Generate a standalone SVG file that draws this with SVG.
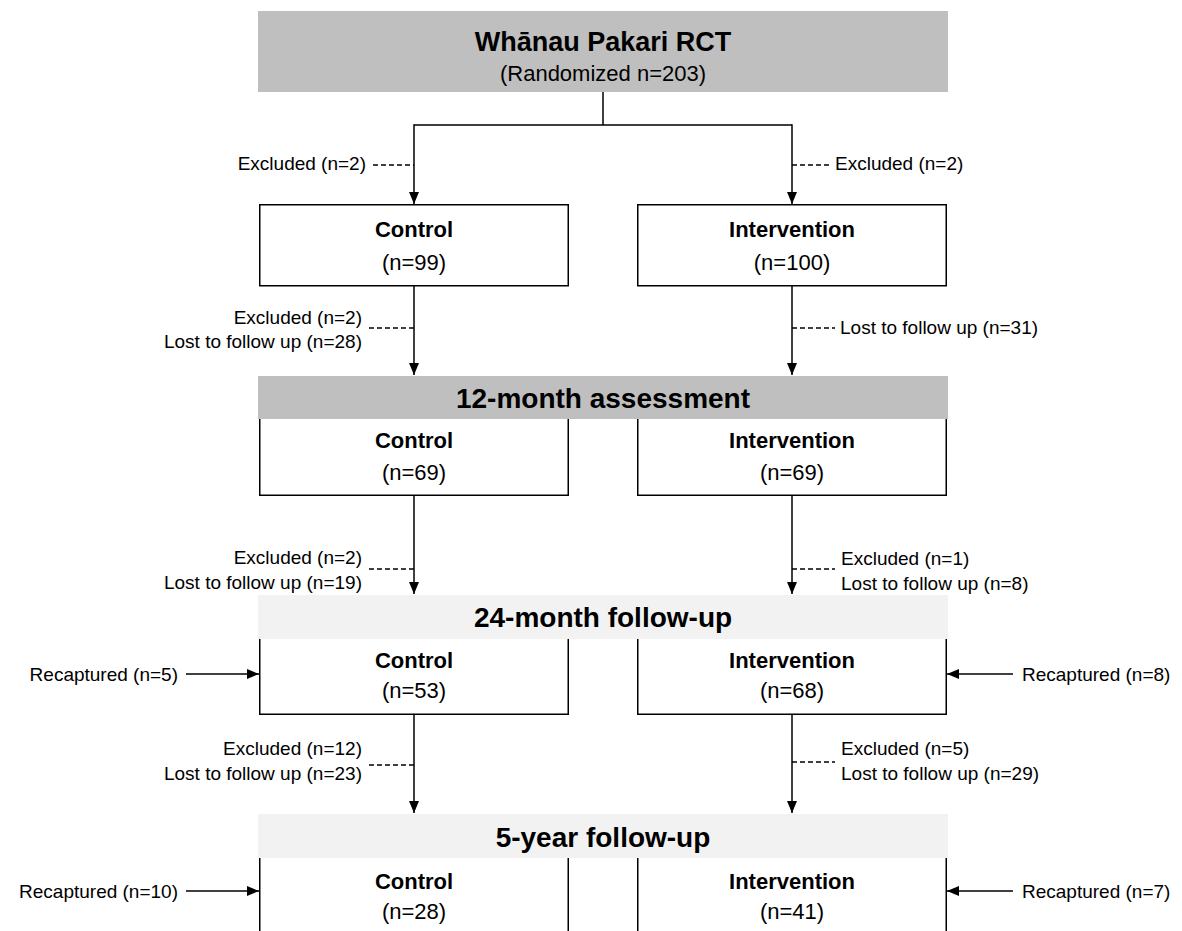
<svg xmlns="http://www.w3.org/2000/svg" width="1182" height="931" viewBox="0 0 1182 931">
<defs>
<marker id="ah" viewBox="0 0 12 10" markerWidth="12" markerHeight="10" refX="12" refY="5" orient="auto" markerUnits="userSpaceOnUse">
<path d="M0,0 L12,5 L0,10 z" fill="#000"/>
</marker>
</defs>
<style>
text{font-family:"Liberation Sans",Arial,sans-serif;fill:#000}
.t{font-size:27px;font-weight:bold;text-anchor:middle}
.st{font-size:22px;text-anchor:middle}
.h{font-size:28px;font-weight:bold;text-anchor:middle}
.bt{font-size:22px;font-weight:bold;text-anchor:middle}
.bn{font-size:22px;text-anchor:middle}
.l{font-size:19px}
.r{text-anchor:end}
.dark{fill:#bfbfbf}
.light{fill:#f2f2f2}
.box{fill:#fff;stroke:#000;stroke-width:1.5}
.side{fill:none;stroke:#000;stroke-width:1.5}
.c{fill:none;stroke:#000;stroke-width:1.5}
.a{marker-end:url(#ah)}
.d{fill:none;stroke:#000;stroke-width:1.5;stroke-dasharray:5 3}
</style>
<rect width="1182" height="931" fill="#fff"/>
<g id="top">
<rect class="dark" x="258" y="11" width="690" height="81"/>
<text class="t" x="603" y="51">Whānau Pakari RCT</text>
<text class="st" x="603" y="81">(Randomized n=203)</text>
</g>
<g id="control0">
<rect class="box" x="259.75" y="204.75" width="308.5" height="81"/>
<text class="bt" x="414" y="237">Control</text>
<text class="bn" x="414" y="269.5">(n=99)</text>
</g>
<g id="intervention0">
<rect class="box" x="637.75" y="204.75" width="308.5" height="81"/>
<text class="bt" x="792" y="237">Intervention</text>
<text class="bn" x="792" y="269.5">(n=100)</text>
</g>
<g id="h12">
<rect class="dark" x="258" y="376" width="690" height="43"/>
<text class="h" x="603" y="408">12-month assessment</text>
</g>
<g id="control12">
<path class="side" d="M259.75,419 V495.25 H568.25 V419"/>
<text class="bt" x="414" y="448">Control</text>
<text class="bn" x="414" y="479.5">(n=69)</text>
</g>
<g id="intervention12">
<path class="side" d="M637.75,419 V495.25 H946.25 V419"/>
<text class="bt" x="792" y="448">Intervention</text>
<text class="bn" x="792" y="479.5">(n=69)</text>
</g>
<g id="h24">
<rect class="light" x="258" y="595" width="690" height="44"/>
<text class="h" x="603" y="627">24-month follow-up</text>
</g>
<g id="control24">
<path class="side" d="M259.75,639 V714.25 H568.25 V639"/>
<text class="bt" x="414" y="668">Control</text>
<text class="bn" x="414" y="697.5">(n=53)</text>
</g>
<g id="intervention24">
<path class="side" d="M637.75,639 V714.25 H946.25 V639"/>
<text class="bt" x="792" y="668">Intervention</text>
<text class="bn" x="792" y="697.5">(n=68)</text>
</g>
<g id="h5y">
<rect class="light" x="258" y="814" width="690" height="44"/>
<text class="h" x="603" y="847">5-year follow-up</text>
</g>
<g id="control5y">
<path class="side" d="M259.75,858 V931 M568.25,858 V931"/>
<text class="bt" x="414" y="889">Control</text>
<text class="bn" x="414" y="918.5">(n=28)</text>
</g>
<g id="intervention5y">
<path class="side" d="M637.75,858 V931 M946.25,858 V931"/>
<text class="bt" x="792" y="889">Intervention</text>
<text class="bn" x="792" y="918.5">(n=41)</text>
</g>
<g id="connectors">
<path class="c" d="M603,92 V125 M414,125 H792"/>
<path class="c a" d="M414,124.25 V204"/>
<path class="c a" d="M792,124.25 V204"/>
<path class="c a" d="M414,286 V375"/>
<path class="c a" d="M792,286 V375"/>
<path class="c a" d="M414,496 V594"/>
<path class="c a" d="M792,496 V594"/>
<path class="c a" d="M414,715 V813"/>
<path class="c a" d="M792,715 V813"/>
<path class="c a" d="M186,674 H259"/>
<path class="c a" d="M1013,674 H947"/>
<path class="c a" d="M186,891 H259"/>
<path class="c a" d="M1013,891 H947"/>
<path class="d" d="M373,165 H414 M792,165 H830"/>
<path class="d" d="M369,328 H414 M792,328 H835"/>
<path class="d" d="M369,569 H414 M792,569 H835"/>
<path class="d" d="M369,765 H414 M792,762 H835"/>
</g>
<g id="labels">
<text class="l r" x="366" y="170">Excluded (n=2)</text>
<text class="l" x="835" y="170">Excluded (n=2)</text>
<text class="l r" x="362" y="324">Excluded (n=2)</text>
<text class="l r" x="362" y="348">Lost to follow up (n=28)</text>
<text class="l" x="840" y="334">Lost to follow up (n=31)</text>
<text class="l r" x="362" y="564">Excluded (n=2)</text>
<text class="l r" x="362" y="589">Lost to follow up (n=19)</text>
<text class="l" x="841" y="565">Excluded (n=1)</text>
<text class="l" x="841" y="590">Lost to follow up (n=8)</text>
<text class="l r" x="362" y="755">Excluded (n=12)</text>
<text class="l r" x="362" y="780">Lost to follow up (n=23)</text>
<text class="l" x="841" y="755">Excluded (n=5)</text>
<text class="l" x="841" y="780">Lost to follow up (n=29)</text>
<text class="l r" x="178" y="680.5">Recaptured (n=5)</text>
<text class="l" x="1022" y="680.5">Recaptured (n=8)</text>
<text class="l r" x="178" y="897.5">Recaptured (n=10)</text>
<text class="l" x="1022" y="897.5">Recaptured (n=7)</text>
</g>
</svg>
